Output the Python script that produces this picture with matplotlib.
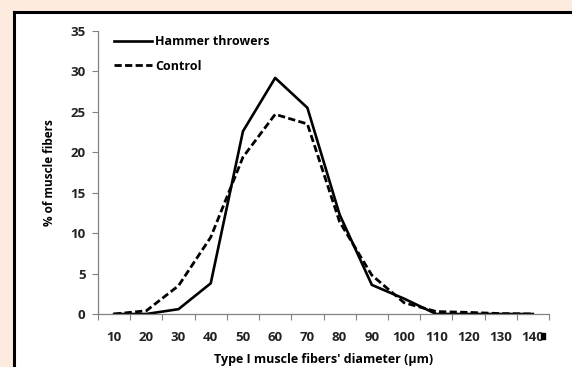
import matplotlib.pyplot as plt
import matplotlib.patches as patches
import numpy as np

# fiber diameter classes (um)
diameters = ['10', '20', '30', '40', '50', '60', '70', '80', '90', '100', '110', '120', '130', '140']
hammer = [0.0, 0.0, 0.6, 3.8, 22.6, 29.2, 25.5, 12.3, 3.6, 1.9, 0.0, 0.0, 0.0, 0.0]
control = [0.0, 0.4, 3.5, 9.5, 19.4, 24.7, 23.5, 11.4, 4.8, 1.4, 0.3, 0.2, 0.05, 0.0]

plt.rcParams['font.family'] = ['Open Sans', 'DejaVu Sans']

fig = plt.figure(figsize=(5.72, 3.67), dpi=100)
fig.patch.set_facecolor('#fdebe0')

# white panel with black border on left/top
W, H = 572, 367
panel = patches.Rectangle((14 / W, 0), 1 - 14 / W, 1 - 12 / H, transform=fig.transFigure,
                          facecolor='white', edgecolor='none', zorder=0)
fig.add_artist(panel)
fig.add_artist(plt.Line2D([14 / W, 14 / W], [0, 1 - 12 / H], transform=fig.transFigure,
                          color='black', lw=2.2))
fig.add_artist(plt.Line2D([14 / W, 1], [1 - 12 / H, 1 - 12 / H], transform=fig.transFigure,
                          color='black', lw=2.2))

ax = fig.add_axes([98 / W, 1 - 314 / H, (549 - 98) / W, (314 - 31) / H])
ax.set_facecolor('none')

x = np.arange(len(diameters))
ax.plot(x, hammer, color='black', lw=1.9, label='Hammer throwers')
ax.plot(x, control, color='black', lw=2.0, ls=(0, (2.6, 1.2)), label='Control')

ax.set_xlim(-0.5, len(diameters) - 0.5)
ax.set_ylim(0, 35)
ax.set_yticks(range(0, 36, 5))
ax.set_xticks(x)
ax.set_xticklabels(diameters)
ax.set_xticks(np.arange(-0.5, len(diameters), 1), minor=True)
ax.tick_params(axis='x', which='major', length=0, pad=12, labelsize=9.5)
ax.tick_params(axis='x', which='minor', length=4, color='#808080', width=0.8)
ax.tick_params(axis='y', length=4, color='#808080', width=0.8, labelsize=9.5, pad=5)
for lbl in ax.get_xticklabels() + ax.get_yticklabels():
    lbl.set_fontweight('bold')
    lbl.set_color('#222222')

for s in ['top', 'right']:
    ax.spines[s].set_visible(False)
for s in ['left', 'bottom']:
    ax.spines[s].set_color('#808080')
    ax.spines[s].set_linewidth(0.9)

ax.set_ylabel('% of muscle fibers', fontsize=8.5, fontweight='bold', labelpad=10)
ax.set_xlabel("Type I muscle fibers' diameter (\u03bcm)", fontsize=9, fontweight='bold', labelpad=7)

leg = ax.legend(loc='upper left', bbox_to_anchor=(0.015, 1.016), frameon=False,
                prop={'weight': 'bold', 'size': 9}, handlelength=3.1,
                handletextpad=0.2, labelspacing=0.92, borderaxespad=0.3)

# small marker after last tick label
fig.add_artist(patches.Rectangle((541 / W, 1 - 339 / H), 4 / W, 6 / H,
                                 transform=fig.transFigure, color='black'))

fig.savefig('out.png', dpi=100, facecolor=fig.get_facecolor())
